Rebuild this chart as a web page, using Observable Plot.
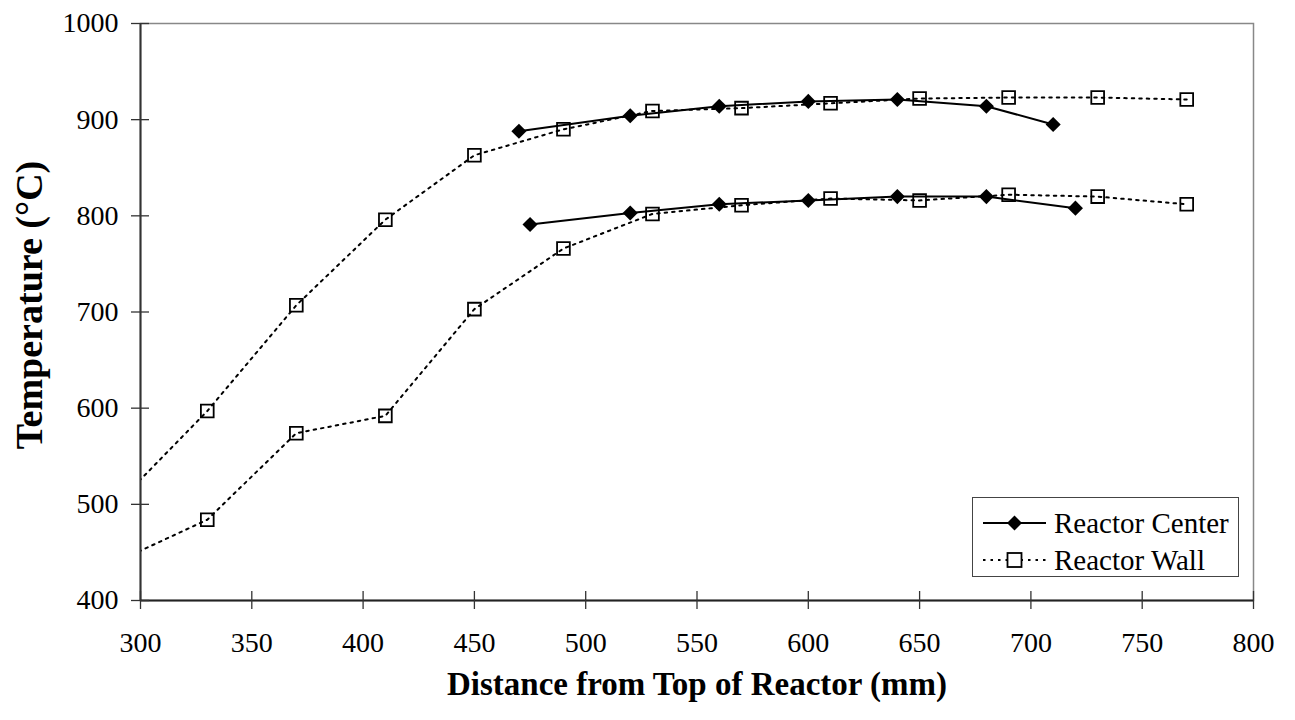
<!DOCTYPE html>
<html>
<head>
<meta charset="utf-8">
<script src="https://cdn.jsdelivr.net/npm/d3@7"></script>
<script src="https://cdn.jsdelivr.net/npm/@observablehq/plot@0.6"></script>
<style>
  html, body { margin: 0; padding: 0; background: #fff; }
  #wrap { position: relative; width: 1295px; height: 720px; font-family: "Liberation Serif", "Times New Roman", serif; }
  #legend { position: absolute; left: 972px; top: 497px; width: 267px; height: 80px; border: 1.5px solid #444; background: #fff; box-sizing: border-box; }
  .row { position: absolute; left: 0; height: 36px; display: flex; align-items: center; font-size: 29px; color: #000; white-space: nowrap; }
  .row svg { margin-left: 10px; margin-right: 8px; }
</style>
</head>
<body>
<div id="wrap"></div>
<script>
// ---- Data ----
const xTicks = [300, 350, 400, 450, 500, 550, 600, 650, 700, 750, 800];
const yTicks = [400, 500, 600, 700, 800, 900, 1000];

const centerUpperX = [470, 520, 560, 600, 640, 680, 710];
const centerUpperY = [888, 904, 914, 919, 921, 914, 895];
const centerLowerX = [475, 520, 560, 600, 640, 680, 720];
const centerLowerY = [791, 803, 812, 816, 820, 820, 808];

const wallUpperX = [290, 330, 370, 410, 450, 490, 530, 570, 610, 650, 690, 730, 770];
const wallUpperY = [502, 597, 707, 796, 863, 890, 909, 912, 917, 922, 923, 923, 921];
const wallLowerX = [290, 330, 370, 410, 450, 490, 530, 570, 610, 650, 690, 730, 770];
const wallLowerY = [441, 484, 574, 592, 703, 766, 802, 811, 818, 816, 822, 820, 812];

const seriesNames = ["Reactor Center", "Reactor Wall"];
const xLabel = "Distance from Top of Reactor (mm)";
const yLabel = "Temperature (°C)";

// ---- Build tables ----
const toRows = (xs, ys, series, run) => xs.map((x, i) => ({x, y: ys[i], series, run}));
const center = [
  ...toRows(centerUpperX, centerUpperY, seriesNames[0], "upper"),
  ...toRows(centerLowerX, centerLowerY, seriesNames[0], "lower")
];
const wall = [
  ...toRows(wallUpperX, wallUpperY, seriesNames[1], "upper"),
  ...toRows(wallLowerX, wallLowerY, seriesNames[1], "lower")
];

const W = 1295, H = 720;
const mL = 140, mR = 42, mT = 23, mB = 120;
const plotW = W - mL - mR, plotH = H - mT - mB;
const font = "Liberation Serif";

const chart = Plot.plot({
  width: W, height: H,
  marginLeft: mL, marginRight: mR, marginTop: mT, marginBottom: mB,
  style: {fontFamily: font, background: "#fff", overflow: "visible"},
  x: {domain: [300, 800]},
  y: {domain: [400, 1000]},
  marks: [
    Plot.frame({stroke: "#888", strokeWidth: 1.5}),
    // wall lines (dotted) and squares
    Plot.line(wall, {x: "x", y: "y", z: "run", stroke: "#000", strokeWidth: 2, strokeDasharray: "2.5,5", clip: true}),
    Plot.dot(wall, {x: "x", y: "y", symbol: "square", r: 7.2, stroke: "#000", strokeWidth: 1.8, fill: "none", clip: true}),
    // center lines (solid) and diamonds
    Plot.line(center, {x: "x", y: "y", z: "run", stroke: "#000", strokeWidth: 2, clip: true}),
    Plot.dot(center, {x: "x", y: "y", symbol: "diamond2", r: 6.8, fill: "#000", stroke: "none", clip: true}),
    // axis lines
    Plot.ruleX([300], {stroke: "#333", strokeWidth: 2}),
    Plot.ruleY([400], {stroke: "#222", strokeWidth: 2}),
    // crossing tick marks
    Plot.ruleY(yTicks, {y: d => d, stroke: "#333", strokeWidth: 1.3, insetLeft: -9, insetRight: plotW - 9}),
    Plot.ruleX(xTicks, {x: d => d, stroke: "#333", strokeWidth: 1.3, insetTop: plotH - 9, insetBottom: -9}),
    // tick labels
    Plot.axisY(yTicks, {tickSize: 0, tickPadding: 22, fontSize: 28, label: null, fill: "#000", tickFormat: d => String(d)}),
    Plot.axisX(xTicks, {tickSize: 0, tickPadding: 32, fontSize: 28, label: null, fill: "#000", tickFormat: d => String(d)}),
    // axis titles
    Plot.text([yLabel], {text: d => d, frameAnchor: "left", textAnchor: "middle", lineAnchor: "middle", dx: -111, dy: -7, rotate: -90, fontSize: 38, fontWeight: "bold", fill: "#000"}),
    Plot.text([xLabel], {text: d => d, frameAnchor: "bottom", textAnchor: "middle", lineAnchor: "middle", dy: 84, fontSize: 33, fontWeight: "bold", fill: "#000"})
  ]
});

const wrap = document.getElementById("wrap");
wrap.appendChild(chart);

// ---- Legend (HTML overlay) ----
const legend = document.createElement("div");
legend.id = "legend";
const sample = (dash, symbol) => {
  const line = `<line x1="0" y1="12" x2="63" y2="12" stroke="#000" stroke-width="2" ${dash ? 'stroke-dasharray="2.5,5"' : ""}/>`;
  const mark = symbol === "diamond"
    ? `<path d="M31.5,4.5L39,12L31.5,19.5L24,12Z" fill="#000"/>`
    : `<rect x="24.5" y="5" width="14" height="14" fill="#fff" stroke="#000" stroke-width="1.8"/>`;
  return `<svg width="63" height="24">${line}${mark}</svg>`;
};
legend.innerHTML =
  `<div class="row" style="top:7px">${sample(false, "diamond")}<span>${seriesNames[0]}</span></div>` +
  `<div class="row" style="top:44px">${sample(true, "square")}<span>${seriesNames[1]}</span></div>`;
wrap.appendChild(legend);
</script>
</body>
</html>
